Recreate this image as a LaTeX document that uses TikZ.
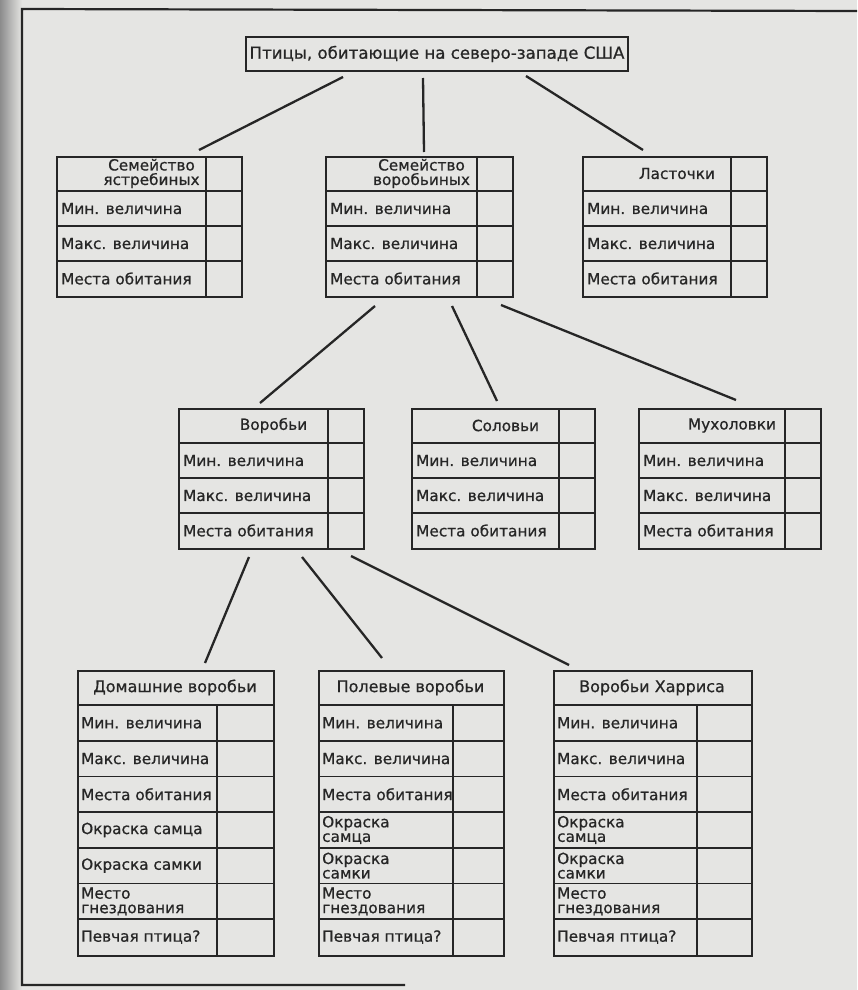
\documentclass[tikz,border=0pt]{standalone}
\usepackage{fontspec}
\setmainfont{DejaVu Sans}[FakeBold=0.7]
\usetikzlibrary{calc}
\definecolor{paper}{RGB}{229,229,227}
\definecolor{ink}{RGB}{38,38,38}
\tikzset{
  tabbox/.style={draw=ink, line width=2pt, inner sep=0pt, anchor=north west},
  rule/.style={ink, line width=1.8pt},
  link/.style={ink, line width=2.3pt},
  cell/.style={anchor=west, inner sep=0pt, text=ink, align=left, font=\fontsize{15.3}{14.5}\selectfont},
  hdr/.style={inner sep=0pt, text=ink, align=center, font=\fontsize{15.3}{14.5}\selectfont},
}
% table with 3 rows: name, x, y, width, header
\newcommand\famtab[5]{
  \node[tabbox, minimum width=#4pt, minimum height=140pt] (#1) at (#2,#3) {};
  \draw[rule] (#2+#4-35,#3) -- (#2+#4-35,#3+140);
  \foreach \r in {35,70,105}
    \draw[rule] (#2,#3+\r) -- (#2+#4,#3+\r);
  \node[hdr] (#1-h) at (#2+#4/2+3,#3+17.5) {#5};
  \node[cell] (#1-0) at (#2+5,#3+52.5) {Мин. величина};
  \node[cell] (#1-1) at (#2+5,#3+87.5) {Макс. величина};
  \node[cell] (#1-2) at (#2+5,#3+122.5) {Места обитания};
}
% table with 7 rows: name, x, width, divider, header, male, female
\newcommand\birdtab[7]{
  \node[tabbox, minimum width=#3pt, minimum height=285pt] (#1) at (#2,670) {};
  \draw[rule] (#2+#4,705) -- (#2+#4,955);
  \foreach \i in {0,...,6}
    \draw[rule] (#2,705+35.7*\i) -- (#2+#3,705+35.7*\i);
  \node[hdr, font=\fontsize{16}{15}\selectfont] (#1-h) at (#2+#3/2,687.5) {#5};
  \foreach \t [count=\i from 0] in {Мин. величина, Макс. величина, Места обитания, {#6}, {#7}, {Место\\гнездования}, Певчая птица?}
    \node[cell] (#1-\i) at (#2+4,722.85+35.7*\i) {\t};
}

\begin{document}
\begin{tikzpicture}[x=1pt, y=-1pt]
\useasboundingbox (0,0) rectangle (857,990);
\fill[paper] (0,0) rectangle (857,990);
\shade[left color=black!45, right color=paper] (0,0) rectangle (22,990);
\draw[ink, line width=2.2pt] (857,11) -- (22,9) -- (22,985) -- (405,985);

\node[draw=ink, line width=2pt, minimum width=382pt, minimum height=34pt, text=ink, font=\fontsize{16.6}{15}\selectfont] (birds) at (437,54) {Птицы, обитающие на северо-западе США};

\famtab{hawks}{56}{156}{185}{Семейство\\ястребиных};
\famtab{passerines}{325}{156}{187}{Семейство\\воробьиных};
\famtab{swallows}{582}{156}{184}{Ласточки};
\famtab{sparrows}{178}{408}{185}{Воробьи};
\famtab{nightingales}{411}{408}{183}{Соловьи};
\famtab{flycatchers}{638}{408}{182}{Мухоловки};

\birdtab{house}{77}{196}{140}{Домашние воробьи}{Окраска самца}{Окраска самки};
\birdtab{field}{318}{185}{135}{Полевые воробьи}{Окраска\\самца}{Окраска\\самки};
\birdtab{harris}{553}{198}{144}{Воробьи Харриса}{Окраска\\самца}{Окраска\\самки};

\draw[link] ([xshift=-94pt,yshift=-5pt]birds.south) -- ([xshift=49.5pt,yshift=6pt]hawks.north);
\draw[link] ([xshift=-14pt,yshift=-6pt]birds.south) -- ([xshift=4.5pt,yshift=4pt]passerines.north);
\draw[link] ([xshift=89pt,yshift=-4pt]birds.south) -- ([xshift=-32pt,yshift=6pt]swallows.north);

\draw[link] ([xshift=-44.5pt,yshift=-8pt]passerines.south) -- ([xshift=-11.5pt,yshift=5pt]sparrows.north);
\draw[link] ([xshift=32.5pt,yshift=-8pt]passerines.south) -- ([xshift=-6.5pt,yshift=7pt]nightingales.north);
\draw[link] ([xshift=81.5pt,yshift=-7pt]passerines.south) -- ([xshift=6pt,yshift=8pt]flycatchers.north);

\draw[link] ([xshift=-22.5pt,yshift=-7pt]sparrows.south) -- ([xshift=29pt,yshift=7pt]house.north);
\draw[link] ([xshift=30.5pt,yshift=-7pt]sparrows.south) -- ([xshift=-29.5pt,yshift=12pt]field.north);
\draw[link] ([xshift=79.5pt,yshift=-6pt]sparrows.south) -- ([xshift=-84pt,yshift=5pt]harris.north);
\end{tikzpicture}
\end{document}
